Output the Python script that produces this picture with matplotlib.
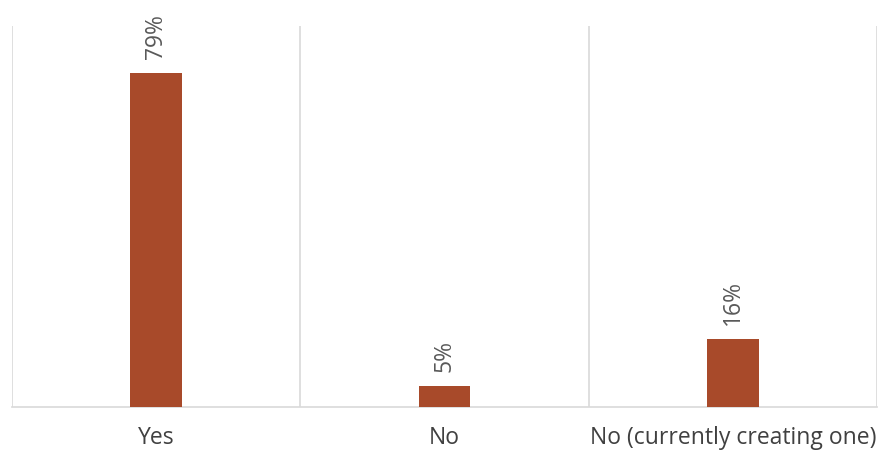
import matplotlib
matplotlib.use("Agg")
import matplotlib.pyplot as plt

categories = ["Yes", "No", "No (currently creating one)"]
values = [79, 5, 16]
labels = ["79%", "5%", "16%"]

plt.rcParams['font.family'] = ['Open Sans', 'DejaVu Sans']

fig = plt.figure(figsize=(8.87, 4.51), dpi=100)
ax = fig.add_axes([12/887, (451-407)/451, (877-12)/887, (407-26)/451])

x = list(range(len(categories)))
bars = ax.bar(x, values, width=0.18, color="#A84A2A", zorder=3)
ax.set_xlim(-0.5, len(categories) - 0.5)
ax.set_ylim(0, 90)

for i in range(len(categories) + 1):
    ax.axvline(i - 0.5, color="#d9d9d9", lw=1.2, zorder=1)

for spine in ["top", "right", "left"]:
    ax.spines[spine].set_visible(False)
ax.spines["bottom"].set_color("#d9d9d9")
ax.spines["bottom"].set_linewidth(1.2)

ax.set_yticks([])
ax.set_xticks(x)
ax.set_xticklabels(categories, fontsize=16.5, color="#404040")
ax.tick_params(axis="x", length=0, pad=14)

for b, lab in zip(bars, labels):
    ax.annotate(lab, (b.get_x() + b.get_width()/2, b.get_height()),
                xytext=(0, 10), textcoords="offset points",
                rotation=90, ha="center", va="bottom",
                fontsize=16.5, color="#595959")

fig.savefig("out.png", dpi=100)
